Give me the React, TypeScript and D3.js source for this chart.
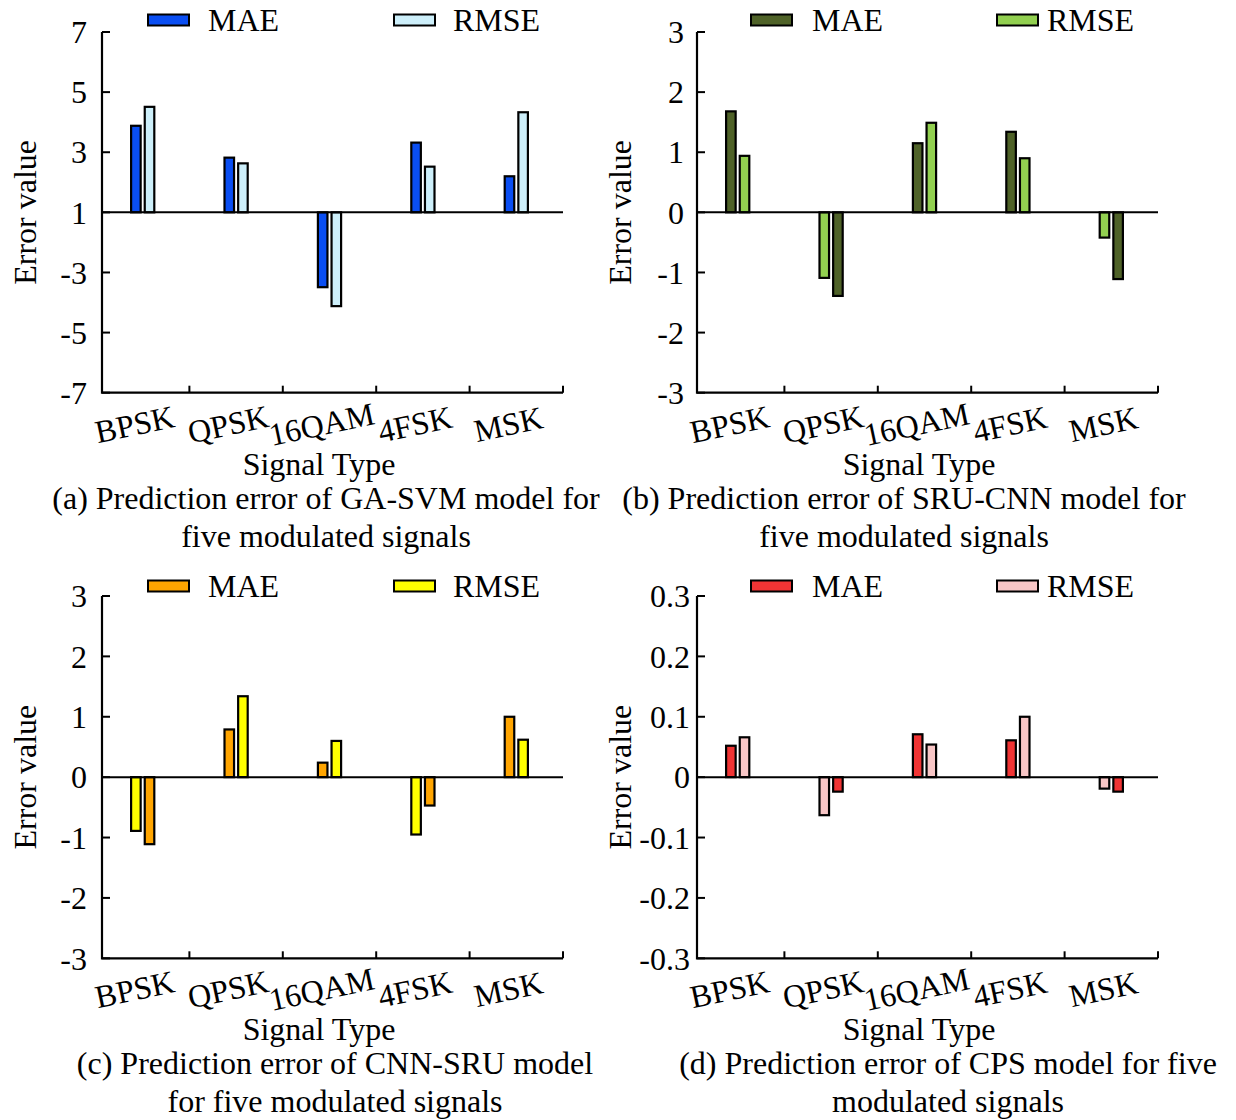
import React, { useEffect, useRef } from 'react'
import * as d3 from 'd3'

const categories = ['BPSK', 'QPSK', '16QAM', '4FSK', 'MSK']
const seriesNames = ['MAE', 'RMSE']

// (a) GA-SVM
const maeA = [3.88, 2.82, -3.49, 3.32, 2.2]
const rmseA = [4.51, 2.63, -4.12, 2.52, 4.33]
const ticksA = [-7, -5, -3, 1, 3, 5, 7]
const rmseFirstA = [false, false, false, false, false]

// (b) SRU-CNN
const maeB = [1.68, -1.39, 1.15, 1.34, -1.11]
const rmseB = [0.94, -1.09, 1.49, 0.9, -0.42]
const ticksB = [-3, -2, -1, 0, 1, 2, 3]
const rmseFirstB = [false, true, false, false, true]

// (c) CNN-SRU
const maeC = [-1.11, 0.79, 0.24, -0.47, 1.0]
const rmseC = [-0.89, 1.34, 0.6, -0.95, 0.62]
const ticksC = [-3, -2, -1, 0, 1, 2, 3]
const rmseFirstC = [true, false, false, true, false]

// (d) CPS
const maeD = [0.052, -0.024, 0.071, 0.061, -0.024]
const rmseD = [0.066, -0.063, 0.054, 0.1, -0.019]
const ticksD = [-0.3, -0.2, -0.1, 0, 0.1, 0.2, 0.3]
const rmseFirstD = [false, true, false, false, true]

const captions = [
  ['(a) Prediction error of GA-SVM model for', 'five modulated signals'],
  ['(b) Prediction error of SRU-CNN model for', 'five modulated signals'],
  ['(c) Prediction error of CNN-SRU model', 'for five modulated signals'],
  ['(d) Prediction error of CPS model for five', 'modulated signals'],
]

const FONT = '"Liberation Serif", "Times New Roman", serif'

type Panel = {
  mae: number[]; rmse: number[]; ticks: number[]; rmseFirst: boolean[]
  colors: [string, string]; col: number; row: number; caption: string[]; tickGap: number
}

export default function App() {
  const ref = useRef<SVGSVGElement | null>(null)

  useEffect(() => {
    const svg = d3.select(ref.current!)
    svg.selectAll('*').remove()

    const panels: Panel[] = [
      { mae: maeA, rmse: rmseA, ticks: ticksA, rmseFirst: rmseFirstA, colors: ['#0a4ef2', '#cdeffa'], col: 0, row: 0, caption: captions[0], tickGap: 15 },
      { mae: maeB, rmse: rmseB, ticks: ticksB, rmseFirst: rmseFirstB, colors: ['#4f6228', '#92d050'], col: 1, row: 0, caption: captions[1], tickGap: 13 },
      { mae: maeC, rmse: rmseC, ticks: ticksC, rmseFirst: rmseFirstC, colors: ['#ffa500', '#ffff00'], col: 0, row: 1, caption: captions[2], tickGap: 15 },
      { mae: maeD, rmse: rmseD, ticks: ticksD, rmseFirst: rmseFirstD, colors: ['#f03434', '#f8c6c6'], col: 1, row: 1, caption: captions[3], tickGap: 7 },
    ]

    panels.forEach(p => {
      const dx = p.col === 0 ? 0 : 595
      const top = p.row === 0 ? 32 : 596
      const bottom = p.row === 0 ? 392.7 : 958.3
      const dy = p.row === 0 ? 0 : 565
      const left = 102 + dx
      const right = 563 + dx
      const g = svg.append('g')

      const y = d3.scaleLinear()
        .domain(p.ticks)
        .range(p.ticks.map((_, i) => bottom - i * (bottom - top) / (p.ticks.length - 1)))
      const base = p.ticks[Math.floor(p.ticks.length / 2)]

      const x = d3.scaleBand<string>().domain(categories).range([96 + dx, right])
      const inner = d3.scaleBand<string>().domain(['0', '1']).range([-11.6, 11.6]).paddingInner(0.3)

      // bars
      categories.forEach((c, i) => {
        const vals = [p.mae[i], p.rmse[i]]
        const order = p.rmseFirst[i] ? [1, 0] : [0, 1]
        order.forEach((s, k) => {
          const v = vals[s]
          const cx = (x(c) ?? 0) + x.bandwidth() / 2
          g.append('rect')
            .attr('x', cx + (inner(String(k)) ?? 0))
            .attr('width', inner.bandwidth())
            .attr('y', Math.min(y(v), y(base)))
            .attr('height', Math.abs(y(v) - y(base)))
            .attr('fill', p.colors[s])
            .attr('stroke', '#000')
            .attr('stroke-width', 2.2)
        })
      })

      // baseline
      g.append('line').attr('x1', left).attr('x2', right).attr('y1', y(base)).attr('y2', y(base))
        .attr('stroke', '#000').attr('stroke-width', 2)

      // axes frame
      g.append('path')
        .attr('d', `M${left},${top}V${bottom}H${right}`)
        .attr('fill', 'none').attr('stroke', '#000').attr('stroke-width', 2.2)

      // y ticks
      p.ticks.forEach(t => {
        g.append('line').attr('x1', left).attr('x2', left + 8).attr('y1', y(t)).attr('y2', y(t))
          .attr('stroke', '#000').attr('stroke-width', 2)
        g.append('text').attr('x', left - p.tickGap).attr('y', y(t)).attr('dy', '0.35em')
          .attr('text-anchor', 'end').attr('font-size', 32).attr('font-family', FONT)
          .text(String(t))
      })

      // x ticks at band boundaries
      categories.forEach((c, i) => {
        const xb = (x(c) ?? 0) + x.step()
        g.append('line').attr('x1', xb).attr('x2', xb).attr('y1', bottom).attr('y2', bottom - 7)
          .attr('stroke', '#000').attr('stroke-width', 2)
        const lx = (x(c) ?? 0) + x.bandwidth() / 2 - 8
        const ly = 424 + dy
        g.append('text').attr('x', lx).attr('y', ly).attr('dy', '0.35em')
          .attr('text-anchor', 'middle').attr('font-size', 32).attr('font-family', FONT)
          .attr('transform', `rotate(-12,${lx},${ly})`)
          .text(c)
      })

      // axis titles
      g.append('text').attr('transform', `translate(${25 + dx},${(top + bottom) / 2}) rotate(-90)`)
        .attr('dy', '0.35em').attr('text-anchor', 'middle').attr('font-size', 32).attr('font-family', FONT)
        .text('Error value')
      g.append('text').attr('x', 319 + dx + (p.col === 1 ? 5 : 0)).attr('y', 475 + dy)
        .attr('text-anchor', 'middle').attr('font-size', 32).attr('font-family', FONT)
        .text('Signal Type')

      // caption
      const capX = [326, 904, 335, 948][p.row * 2 + p.col]
      p.caption.forEach((line, li) => {
        g.append('text').attr('x', capX).attr('y', 509 + dy + li * 38)
          .attr('text-anchor', 'middle').attr('font-size', 32).attr('font-family', FONT)
          .text(line)
      })

      // legend
      const legY = p.row === 0 ? 20 : 586
      const sw = p.col === 0 ? [46, 292] : [54, 300]
      const tx = p.col === 0 ? [106, 351] : [115, 350]
      seriesNames.forEach((name, s) => {
        g.append('rect').attr('x', left + sw[s]).attr('y', legY - 5.5).attr('width', 41).attr('height', 11)
          .attr('fill', p.colors[s]).attr('stroke', '#000').attr('stroke-width', 2)
        g.append('text').attr('x', left + tx[s]).attr('y', legY).attr('dy', '0.35em')
          .attr('font-size', 32).attr('font-family', FONT)
          .text(name)
      })
    })
  }, [])

  return <svg ref={ref} width={1236} height={1120} style={{ position: 'absolute', left: 0, top: 0, background: '#fff' }} />
}
